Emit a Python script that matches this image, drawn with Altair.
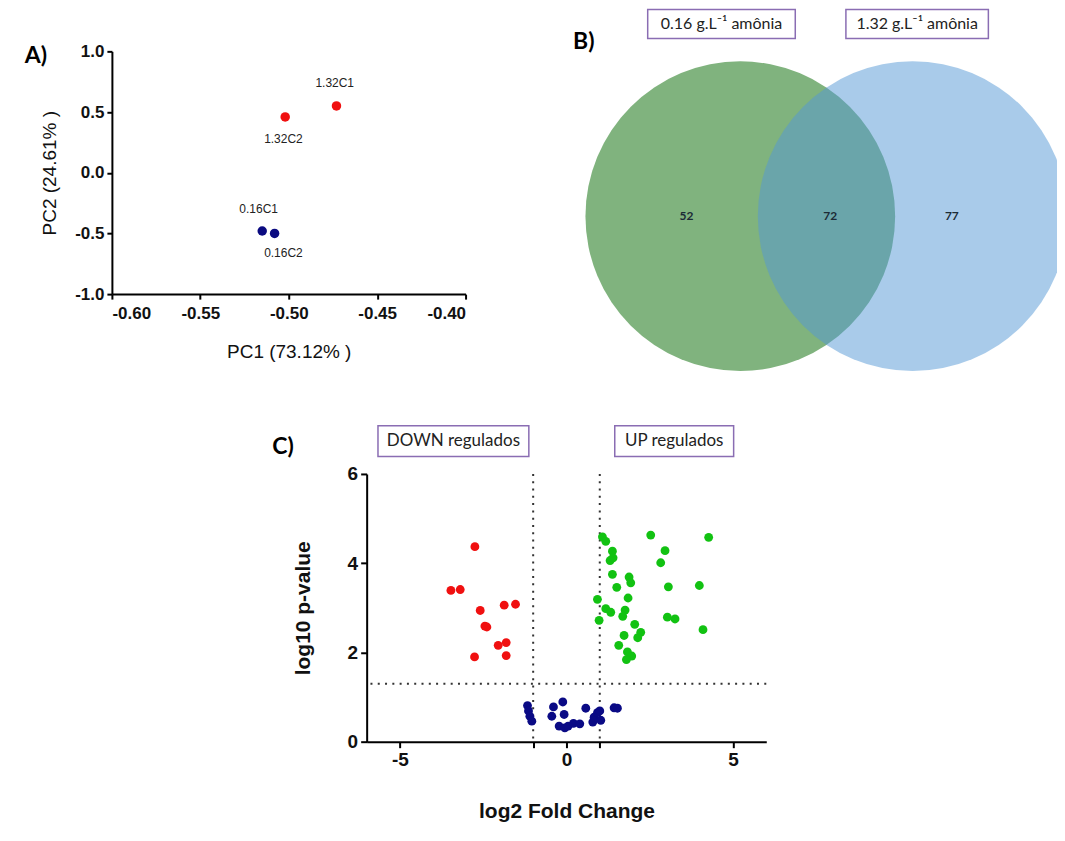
import altair as alt
import pandas as pd

FONT = "Liberation Sans"
LBL_FONT = "Lato"

# ---------------- Panel A: PCA ----------------
pca_sample = ["1.32C1", "1.32C2", "0.16C1", "0.16C2"]
pca_group = ["1.32", "1.32", "0.16", "0.16"]
pca_pc1 = [-0.473, -0.502, -0.515, -0.508]
pca_pc2 = [0.55, 0.46, -0.48, -0.50]
pca_label_x = [-0.474, -0.503, -0.517, -0.503]
pca_label_y = [0.74, 0.28, -0.30, -0.66]
pca_x_ticks = [-0.60, -0.55, -0.50, -0.45, -0.40]
pca_y_ticks = [-1.0, -0.5, 0.0, 0.5, 1.0]

# ---------------- Panel B: Venn ----------------
venn_sets = ["0.16 g.L⁻¹ amônia", "1.32 g.L⁻¹ amônia"]
venn_center_x = [0.0, 1.113]
venn_center_y = [0.0, 0.0]
venn_counts = ["52", "72", "77"]
venn_count_x = [-0.348, 0.581, 1.366]
venn_count_y = [0.0, 0.0, 0.0]
venn_box_x0 = [-0.598, 0.682]
venn_box_x1 = [0.355, 1.602]
venn_box_y0 = [1.148, 1.148]
venn_box_y1 = [1.335, 1.335]

# ---------------- Panel C: Volcano ----------------
down_fc = [-2.75, -3.47, -3.19, -1.87, -1.53, -2.59, -2.45, -2.39, -2.05, -1.81, -2.76, -1.81]
down_p = [4.37, 3.39, 3.41, 3.06, 3.08, 2.94, 2.59, 2.57, 2.16, 2.22, 1.90, 1.93]
up_fc = [1.08, 1.18, 2.53, 4.27, 1.38, 2.96, 1.31, 1.40, 2.83, 1.38, 1.88, 1.93, 1.51,
         3.06, 3.99, 0.93, 1.85, 1.18, 1.33, 1.76, 1.69, 0.98, 3.03, 3.26, 2.05, 4.10,
         2.23, 2.14, 1.73, 1.57, 1.83, 1.96, 1.80]
up_p = [4.59, 4.49, 4.63, 4.58, 4.27, 4.28, 4.06, 4.12, 4.01, 3.75, 3.69, 3.56, 3.46,
        3.47, 3.50, 3.19, 3.22, 2.98, 2.90, 2.95, 2.81, 2.72, 2.79, 2.75, 2.63, 2.51,
        2.45, 2.33, 2.38, 2.16, 2.01, 1.92, 1.84]
ns_fc = [-1.17, -1.14, -1.10, -1.04, -0.39, -0.44, -0.11, -0.07, -0.22, -0.05, 0.05,
         0.21, 0.40, 0.58, 0.79, 0.83, 0.93, 1.00, 1.03, 1.43, 1.53]
ns_p = [0.81, 0.69, 0.57, 0.46, 0.78, 0.57, 0.89, 0.61, 0.35, 0.31, 0.35,
        0.41, 0.40, 0.75, 0.44, 0.55, 0.65, 0.69, 0.48, 0.76, 0.75]
fc_cut = [-1.0, 1.0]
p_cut = [1.3]
volcano_x_ticks = [-5, -1, 0, 1, 5]
volcano_y_ticks = [0, 2, 4, 6]
reg_labels = ["DOWN regulados", "UP regulados"]
reg_box_x0 = [-5.66, 1.45]
reg_box_x1 = [-1.13, 5.02]
reg_box_y0 = [6.39, 6.39]
reg_box_y1 = [7.08, 7.08]

BOX_STROKE = "#8A6DB3"

# ====== Panel A ======
axA = dict(domainColor="black", domainWidth=2, tickColor="black", tickWidth=2,
           tickSize=5, labelFont=FONT, labelFontSize=17, labelFontWeight="bold",
           labelColor="#111", titleFont=FONT, titleFontSize=19,
           titleFontWeight="normal", titleColor="#111", grid=False)

xA = alt.X("x:Q", scale=alt.Scale(domain=[-0.6, -0.4], nice=False, zero=False),
           axis=alt.Axis(values=pca_x_ticks,
                         labelExpr="replace(format(datum.value, '.2f'), '\u2212', '-')",
                         title="PC1 (73.12% )", titlePadding=21, labelPadding=6, **axA))
yA = alt.Y("y:Q", scale=alt.Scale(domain=[-1, 1], nice=False, zero=False),
           axis=alt.Axis(values=pca_y_ticks,
                         labelExpr="replace(format(datum.value, '.1f'), '\u2212', '-')",
                         title="PC2 (24.61% )", titlePadding=15, labelPadding=3, **axA))

dfA = pd.DataFrame({"x": pca_pc1, "y": pca_pc2, "grp": pca_group})
dfA_lab = pd.DataFrame({"x": pca_label_x, "y": pca_label_y, "t": pca_sample})
dfA_panel = pd.DataFrame({"x": [-0.643], "y": [0.965], "t": ["A)"]})

ptsA = alt.Chart(dfA).mark_circle(size=90, opacity=1).encode(
    x=xA, y=yA,
    color=alt.Color("grp:N", scale=alt.Scale(domain=["1.32", "0.16"],
                                             range=["#F01010", "#0A0A80"]), legend=None))
labA = alt.Chart(dfA_lab).mark_text(font=FONT, fontSize=12, color="#222").encode(
    x="x:Q", y="y:Q", text="t:N")
tagA = alt.Chart(dfA_panel).mark_text(font=LBL_FONT, fontSize=23, fontWeight="bold",
                                      color="black").encode(x="x:Q", y="y:Q", text="t:N")
A = alt.layer(ptsA, labA, tagA).properties(width=354, height=243)

# ====== Panel B ======
xB = alt.X("x:Q", scale=alt.Scale(domain=[-1.0645, 2.0452], nice=False, zero=False), axis=None)
yB = alt.Y("y:Q", scale=alt.Scale(domain=[-1.0258, 1.0645], nice=False, zero=False), axis=None)

dfB_c = pd.DataFrame({"x": venn_center_x, "y": venn_center_y, "set": venn_sets})
dfB_n = pd.DataFrame({"x": venn_count_x, "y": venn_count_y, "t": venn_counts})
dfB_box = pd.DataFrame({"x": venn_box_x0, "x2": venn_box_x1, "y": venn_box_y0,
                        "y2": venn_box_y1, "t": venn_sets})
dfB_box["xc"] = (dfB_box["x"] + dfB_box["x2"]) / 2
dfB_box["yc"] = (dfB_box["y"] + dfB_box["y2"]) / 2
dfB_panel = pd.DataFrame({"x": [-1.011], "y": [1.123], "t": ["B)"]})

circB = alt.Chart(dfB_c).mark_circle(size=96100, clip=True).encode(
    x=xB, y=yB,
    color=alt.Color("set:N", scale=alt.Scale(domain=venn_sets, range=["#80B37E", "#5397D5"]),
                    legend=None),
    opacity=alt.Opacity("set:N", scale=alt.Scale(domain=venn_sets, range=[1.0, 0.5]),
                        legend=None))
numB = alt.Chart(dfB_n).mark_text(font=LBL_FONT, fontSize=12, fontWeight="bold",
                                  color="#1c2b36").encode(x="x:Q", y="y:Q", text="t:N")
boxB = alt.Chart(dfB_box).mark_rect(fill="white", stroke=BOX_STROKE, strokeWidth=1.5).encode(
    x="x:Q", x2="x2:Q", y="y:Q", y2="y2:Q")
boxtB = alt.Chart(dfB_box).mark_text(font=LBL_FONT, fontSize=16, color="#222").encode(
    x="xc:Q", y="yc:Q", text="t:N")
tagB = alt.Chart(dfB_panel).mark_text(font=LBL_FONT, fontSize=23, fontWeight="bold",
                                      color="black").encode(x="x:Q", y="y:Q", text="t:N")
B = alt.layer(circB, numB, boxB, boxtB, tagB).properties(width=482, height=324)

# ====== Panel C ======
axC = dict(domainColor="black", domainWidth=2, tickColor="black", tickWidth=2,
           tickSize=6, labelFont=FONT, labelFontSize=19, labelFontWeight="bold",
           labelColor="#111", titleFont=FONT, titleFontSize=21,
           titleFontWeight="bold", titleColor="#111", grid=False, labelPadding=3)

xC = alt.X("x:Q", scale=alt.Scale(domain=[-6, 6], nice=False, zero=False),
           axis=alt.Axis(values=volcano_x_ticks,
                         labelExpr="abs(datum.value) == 1 ? '' : replace(datum.label, '\u2212', '-')",
                         title="log2 Fold Change", titlePadding=31, **axC))
yC = alt.Y("y:Q", scale=alt.Scale(domain=[0, 6], nice=False, zero=False),
           axis=alt.Axis(values=volcano_y_ticks, title="log10 p-value",
                         titlePadding=34, **axC))

dfC = pd.concat([
    pd.DataFrame({"x": down_fc, "y": down_p, "cls": "down"}),
    pd.DataFrame({"x": up_fc, "y": up_p, "cls": "up"}),
    pd.DataFrame({"x": ns_fc, "y": ns_p, "cls": "ns"}),
], ignore_index=True)
dfC_v = pd.DataFrame({"x": fc_cut})
dfC_h = pd.DataFrame({"y": p_cut})
dfC_box = pd.DataFrame({"x": reg_box_x0, "x2": reg_box_x1, "y": reg_box_y0,
                        "y2": reg_box_y1, "t": reg_labels})
dfC_box["xc"] = (dfC_box["x"] + dfC_box["x2"]) / 2
dfC_box["yc"] = (dfC_box["y"] + dfC_box["y2"]) / 2
dfC_panel = pd.DataFrame({"x": [-8.51], "y": [6.61], "t": ["C)"]})

ptsC = alt.Chart(dfC).mark_circle(size=78, opacity=1).encode(
    x=xC, y=yC,
    color=alt.Color("cls:N", scale=alt.Scale(domain=["down", "up", "ns"],
                                             range=["#F01010", "#12C212", "#0A0A85"]),
                    legend=None))
vrule = alt.Chart(dfC_v).mark_rule(strokeDash=[2, 5.3], strokeWidth=2, color="#333").encode(
    x="x:Q")
hrule = alt.Chart(dfC_h).mark_rule(strokeDash=[2, 5.3], strokeWidth=2, color="#333").encode(
    y="y:Q")
boxC = alt.Chart(dfC_box).mark_rect(fill="white", stroke=BOX_STROKE, strokeWidth=1.5).encode(
    x="x:Q", x2="x2:Q", y="y:Q", y2="y2:Q")
boxtC = alt.Chart(dfC_box).mark_text(font=LBL_FONT, fontSize=17, color="#222").encode(
    x="xc:Q", y="yc:Q", text="t:N")
tagC = alt.Chart(dfC_panel).mark_text(font=LBL_FONT, fontSize=23, fontWeight="bold",
                                      color="black").encode(x="x:Q", y="y:Q", text="t:N")
C = alt.layer(vrule, hrule, ptsC, boxC, boxtC, tagC).properties(width=400, height=268)

spacer = alt.Chart(pd.DataFrame({"s": [0]})).mark_point(opacity=0).encode(
    x=alt.value(0), y=alt.value(0)).properties(width=160, height=10)

top = alt.hconcat(A, B, spacing=106).resolve_scale(color="independent", opacity="independent")
bottom = alt.hconcat(spacer, C, spacing=0).resolve_scale(color="independent", opacity="independent")
chart = alt.vconcat(top, bottom, spacing=50).resolve_scale(
    color="independent", opacity="independent"
).properties(
    padding={"left": 16, "top": 0, "right": 0, "bottom": 0}, background="white"
).configure_view(stroke=None)

chart.save("out.html", embed_options={"renderer": "svg", "actions": False})
